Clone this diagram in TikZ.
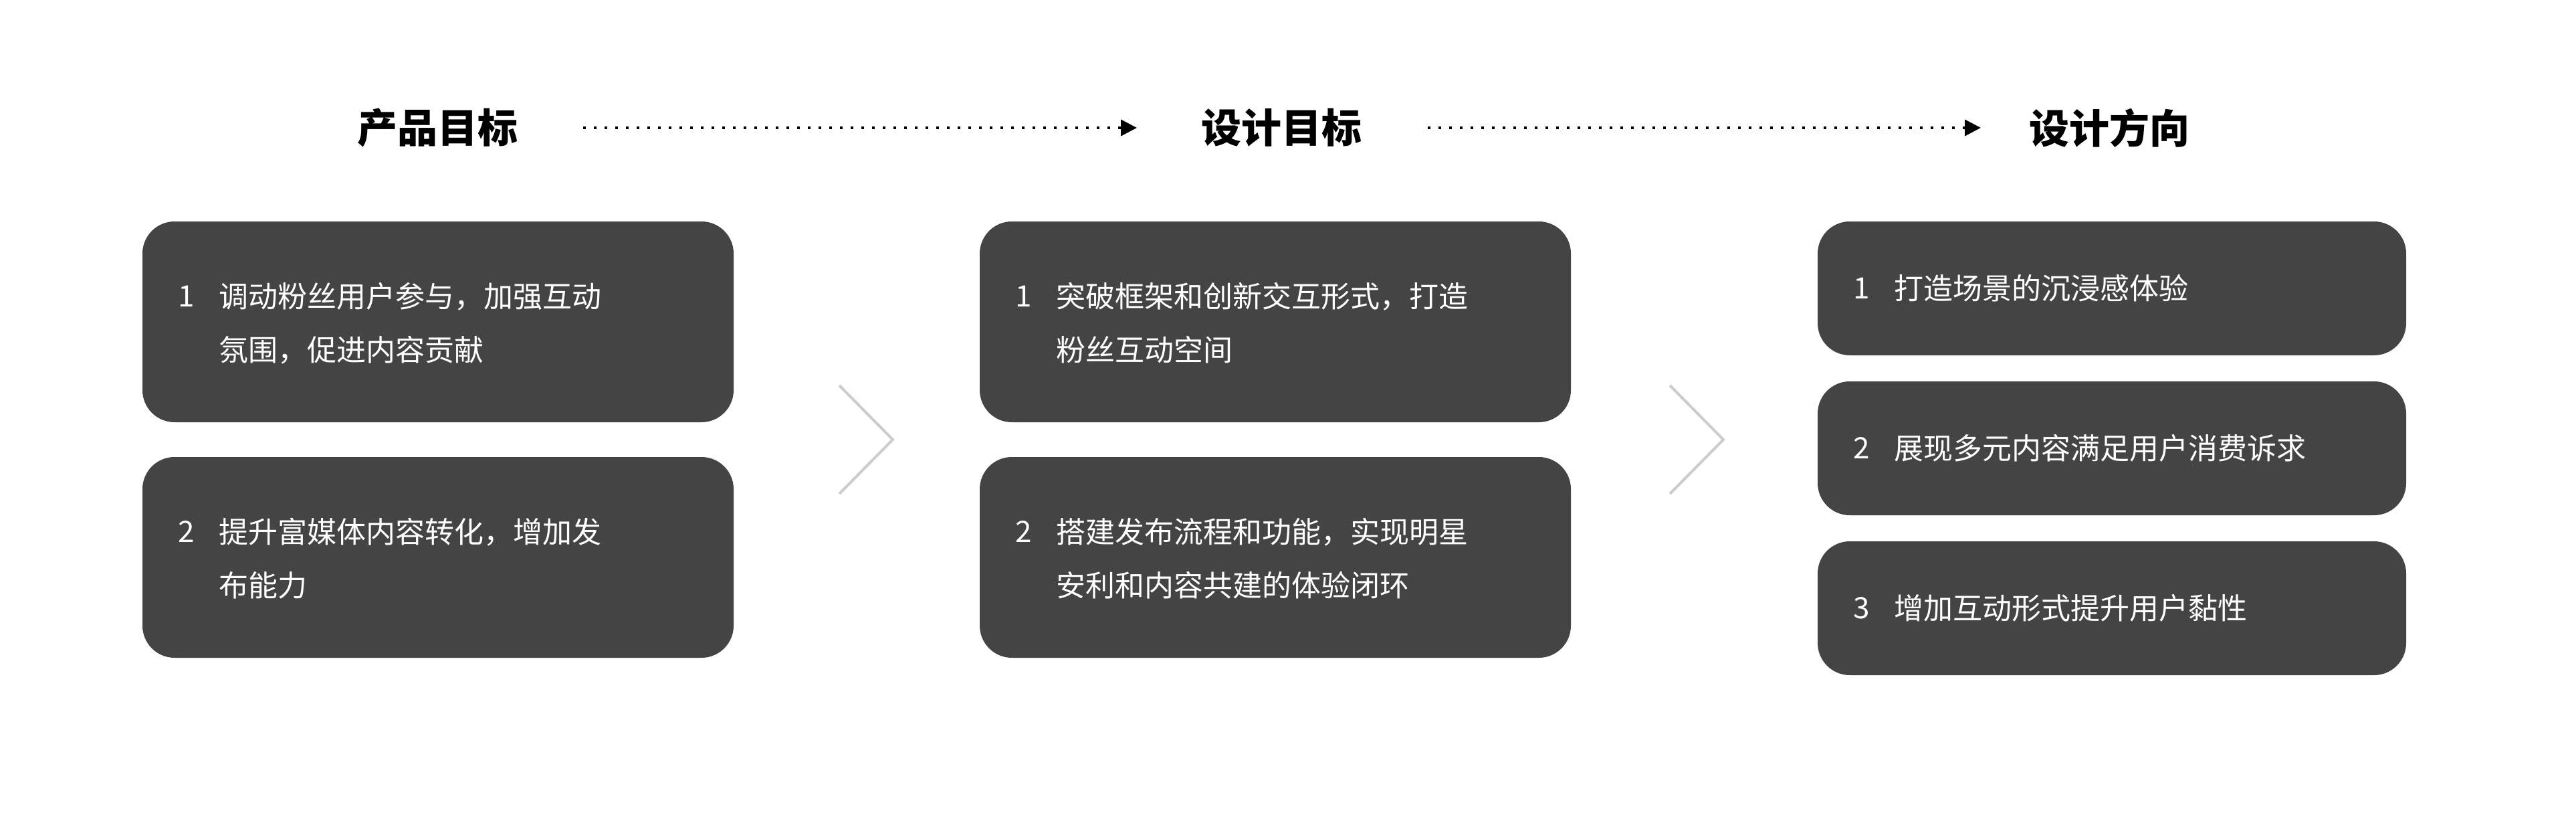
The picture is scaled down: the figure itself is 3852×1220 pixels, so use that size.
\documentclass[tikz,border=0pt]{standalone}
\usepackage{fontspec}
\setmainfont{Noto Sans CJK SC}
\usetikzlibrary{arrows.meta}
\definecolor{boxc}{HTML}{444444}
\definecolor{chev}{HTML}{CCCCCC}
\begin{document}
\begin{tikzpicture}[x=0.25pt,y=-0.25pt,
  card/.style={fill=boxc,rounded corners=12pt},
  title/.style={font=\fontsize{15}{18}\selectfont\bfseries,text=black},
  txt/.style={font=\fontsize{11}{20}\selectfont,text=white,align=left,anchor=west,inner sep=0pt},
  num/.style={font=\fontsize{11}{20}\selectfont,text=white,anchor=west,inner sep=0pt},
  flow/.style={line width=1pt,dash pattern=on 1pt off 3pt,-{Triangle[length=6pt,width=6pt]}},
  chevron/.style={draw=chev,line width=1pt}]
\useasboundingbox (0,0) rectangle (3852,1220);
\node[title] (t1) at (654,191) {产品目标};
\node[title] (t2) at (1916,191) {设计目标};
\node[title] (t3) at (3154,191) {设计方向};
\coordinate (a1s) at (872,191); \coordinate (a1e) at (1700,191);
\coordinate (a2s) at (2135,191); \coordinate (a2e) at (2962,191);
\draw[flow] (a1s) -- (a1e);
\draw[flow] (a2s) -- (a2e);
% column 1
\path[card] (213,331) rectangle (1097,631);
\path[card] (213,683) rectangle (1097,983);
\node[num] (n11) at (266,443) {1};
\node[txt] (x11) at (327,483) {调动粉丝用户参与，加强互动\\氛围，促进内容贡献};
\node[num] (n12) at (266,795) {2};
\node[txt] (x12) at (327,835) {提升富媒体内容转化，增加发\\布能力};
% column 2
\path[card] (1465,331) rectangle (2349,631);
\path[card] (1465,683) rectangle (2349,983);
\node[num] (n21) at (1518,443) {1};
\node[txt] (x21) at (1579,483) {突破框架和创新交互形式，打造\\粉丝互动空间};
\node[num] (n22) at (1518,795) {2};
\node[txt] (x22) at (1579,835) {搭建发布流程和功能，实现明星\\安利和内容共建的体验闭环};
% column 3
\path[card] (2718,331) rectangle (3598,531);
\path[card] (2718,570) rectangle (3598,770);
\path[card] (2718,809) rectangle (3598,1009);
\node[num] (n31) at (2771,431) {1};
\node[txt] (x31) at (2832,431) {打造场景的沉浸感体验};
\node[num] (n32) at (2771,670) {2};
\node[txt] (x32) at (2832,670) {展现多元内容满足用户消费诉求};
\node[num] (n33) at (2771,909) {3};
\node[txt] (x33) at (2832,909) {增加互动形式提升用户黏性};
% chevrons
\draw[chevron] (1255,576) -- (1335,657) -- (1255,738);
\draw[chevron] (2497,576) -- (2577,657) -- (2497,738);
\end{tikzpicture}
\end{document}
